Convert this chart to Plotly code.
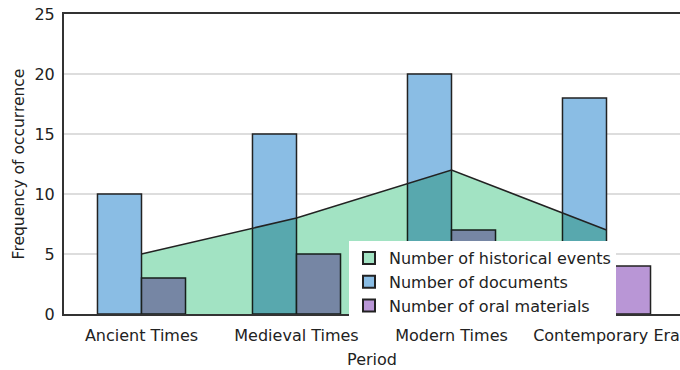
import plotly.graph_objects as go

# Periods and counts per period
periods = ["Ancient Times", "Medieval Times", "Modern Times", "Contemporary Era"]
historical_events = [5, 8, 12, 7]
documents = [10, 15, 20, 18]
oral_materials = [3, 5, 7, 4]

x_pos = list(range(len(periods)))

green = "#a2e3c3"
blue = "#8abde4"
purple = "#b996d6"
edge = "#222222"
font_family = "DejaVu Sans, Verdana, sans-serif"

fig = go.Figure()

# Legend-only marker so the area series gets a square swatch
fig.add_trace(go.Scatter(
    x=[None], y=[None], mode="markers", name="Number of historical events",
    marker=dict(symbol="square", size=11, color=green, line=dict(color=edge, width=1.5)),
))

fig.add_trace(go.Bar(
    x=x_pos, y=documents, name="Number of documents",
    marker=dict(color=blue, line=dict(color=edge, width=1.5)),
))
fig.add_trace(go.Bar(
    x=x_pos, y=oral_materials, name="Number of oral materials",
    marker=dict(color=purple, line=dict(color=edge, width=1.5)),
))

# Area for historical events, drawn over the bars
fig.add_trace(go.Scatter(
    x=x_pos, y=historical_events, mode="lines", fill="tozeroy",
    fillcolor=green, line=dict(color=edge, width=1.5),
    showlegend=False, name="Number of historical events",
))

fig.update_layout(
    width=680, height=370,
    margin=dict(l=64, r=0, t=14, b=56),
    paper_bgcolor="white", plot_bgcolor="white",
    font=dict(family=font_family, size=16, color="#222222"),
    barmode="group", bargap=0.432, bargroupgap=0,
    legend=dict(
        x=(349 - 64) / 616, y=(314 - 241) / 300, xanchor="left", yanchor="top",
        bgcolor="white", borderwidth=0,
        font=dict(size=16, color="#222222"),
        tracegroupgap=0, itemsizing="constant",
    ),
)

fig.update_xaxes(
    range=[-0.5, -0.5 + 616 / 155],
    tickvals=x_pos, ticktext=periods, tickfont=dict(size=16),
    showgrid=False, showline=True, linecolor="#333333", linewidth=2,
    mirror=True, ticks="outside", ticklen=6, tickcolor="rgba(0,0,0,0)",
    title=dict(text="Period", standoff=10, font=dict(size=16)),
    zeroline=False,
)
fig.update_yaxes(
    range=[0, 25], tickvals=[0, 5, 10, 15, 20, 25], tickfont=dict(size=16),
    showgrid=True, gridcolor="#dddddd", gridwidth=2,
    showline=True, linecolor="#333333", linewidth=2,
    ticks="outside", ticklen=4, tickcolor="rgba(0,0,0,0)",
    title=dict(text="Frequency of occurrence", standoff=6, font=dict(size=15.5)),
    zeroline=False,
)

# Blend the area fill multiplicatively with the bars beneath it
blend_js = """
var gd = document.getElementsByClassName('plotly-graph-div')[0];
function blendFills(){
  gd.querySelectorAll('.scatterlayer .fills path').forEach(function(p){
    p.style.mixBlendMode = 'multiply';
  });
}
blendFills();
gd.on('plotly_afterplot', blendFills);
"""

fig.write_html("out.html", post_script=blend_js)
